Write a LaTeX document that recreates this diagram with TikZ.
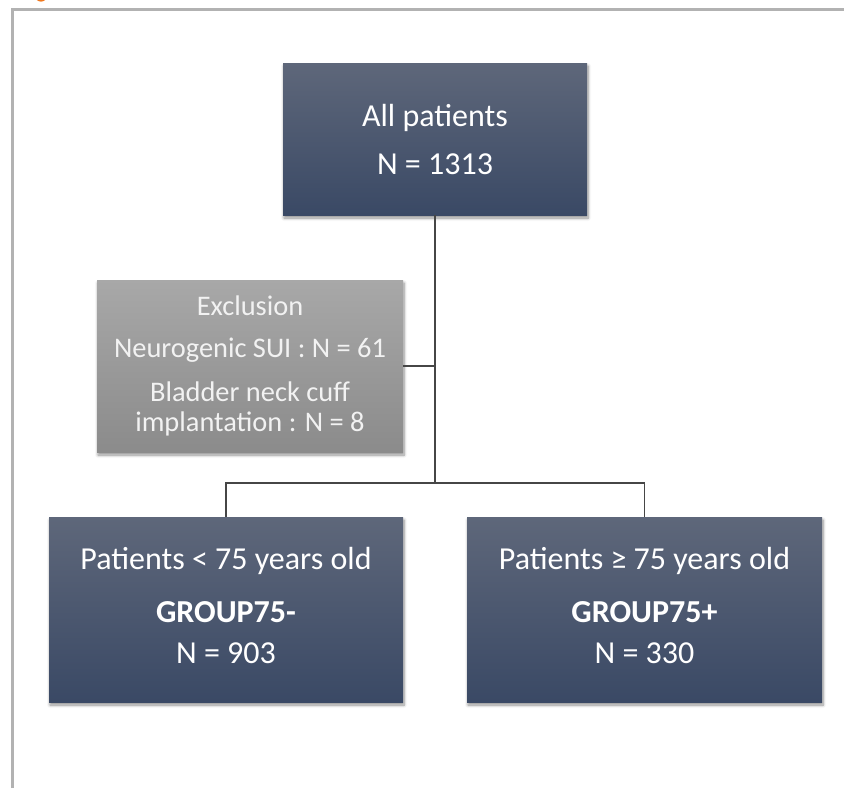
\documentclass[tikz,border=0pt]{standalone}
\usepackage{fontspec}
\setmainfont{Carlito}
\usetikzlibrary{shadows.blur}
\definecolor{navytop}{RGB}{94,103,122}
\definecolor{navybot}{RGB}{58,73,101}
\definecolor{greytop}{RGB}{168,168,168}
\definecolor{greybot}{RGB}{139,139,139}
\definecolor{framegray}{RGB}{178,178,178}
\definecolor{linegray}{RGB}{70,70,70}
\definecolor{figorange}{RGB}{240,120,30}
\tikzset{
  navybox/.style={rectangle, top color=navytop, bottom color=navybot, draw=none,
    text=white, align=center, inner sep=0pt,
    font=\fontsize{32}{38}\selectfont,
    blur shadow={shadow xshift=1pt, shadow yshift=-3pt, shadow blur steps=6, shadow blur radius=3pt, shadow opacity=45}},
  greybox/.style={rectangle, top color=greytop, bottom color=greybot, draw=none,
    text=white!95!black, align=center, inner sep=0pt,
    font=\fontsize{28.4}{30.5}\selectfont,
    blur shadow={shadow xshift=1pt, shadow yshift=-3pt, shadow blur steps=6, shadow blur radius=3pt, shadow opacity=45}},
  conn/.style={draw=linegray, line width=1.3pt}
}
\begin{document}
\begin{tikzpicture}[x=1pt,y=-1pt]
\useasboundingbox (0,0) rectangle (844,788);
% frame and cut-off title mark
\begin{scope}
  \clip (0,0) rectangle (844,2);
  \fill[figorange] (41,-4) ellipse (6 and 5.6);
\end{scope}
\draw[framegray, line width=3pt] (12,788) -- (12,9) -- (844,9);
% boxes
\node[navybox, minimum width=304pt, minimum height=152pt] (top) at (435,139)
  {All patients\\[10pt]N = 1313};
\node[greybox, minimum width=306pt, minimum height=172pt] (excl) at (250,366)
  {Exclusion\\[12pt]Neurogenic SUI : N = 61\\[13pt]Bladder neck cuff\\implantation : N = 8};
\node[navybox, minimum width=354pt, minimum height=185pt] (young) at (226,609.5)
  {Patients < 75 years old\\[15pt]\textbf{GROUP75-}\\[3pt]N = 903\rule[-8pt]{0pt}{8pt}};
\node[navybox, minimum width=355pt, minimum height=185pt] (old) at (644.5,609.5)
  {Patients ≥ 75 years old\\[15pt]\textbf{GROUP75+}\\[3pt]N = 330\rule[-8pt]{0pt}{8pt}};
% connectors
\coordinate (split) at (435,483);
\draw[conn] (top.south) -- (split);
\draw[conn] (excl.east) -- (excl.east -| top.south);
\draw[conn] (young.north) |- (split) -| (old.north);
\end{tikzpicture}
\end{document}
